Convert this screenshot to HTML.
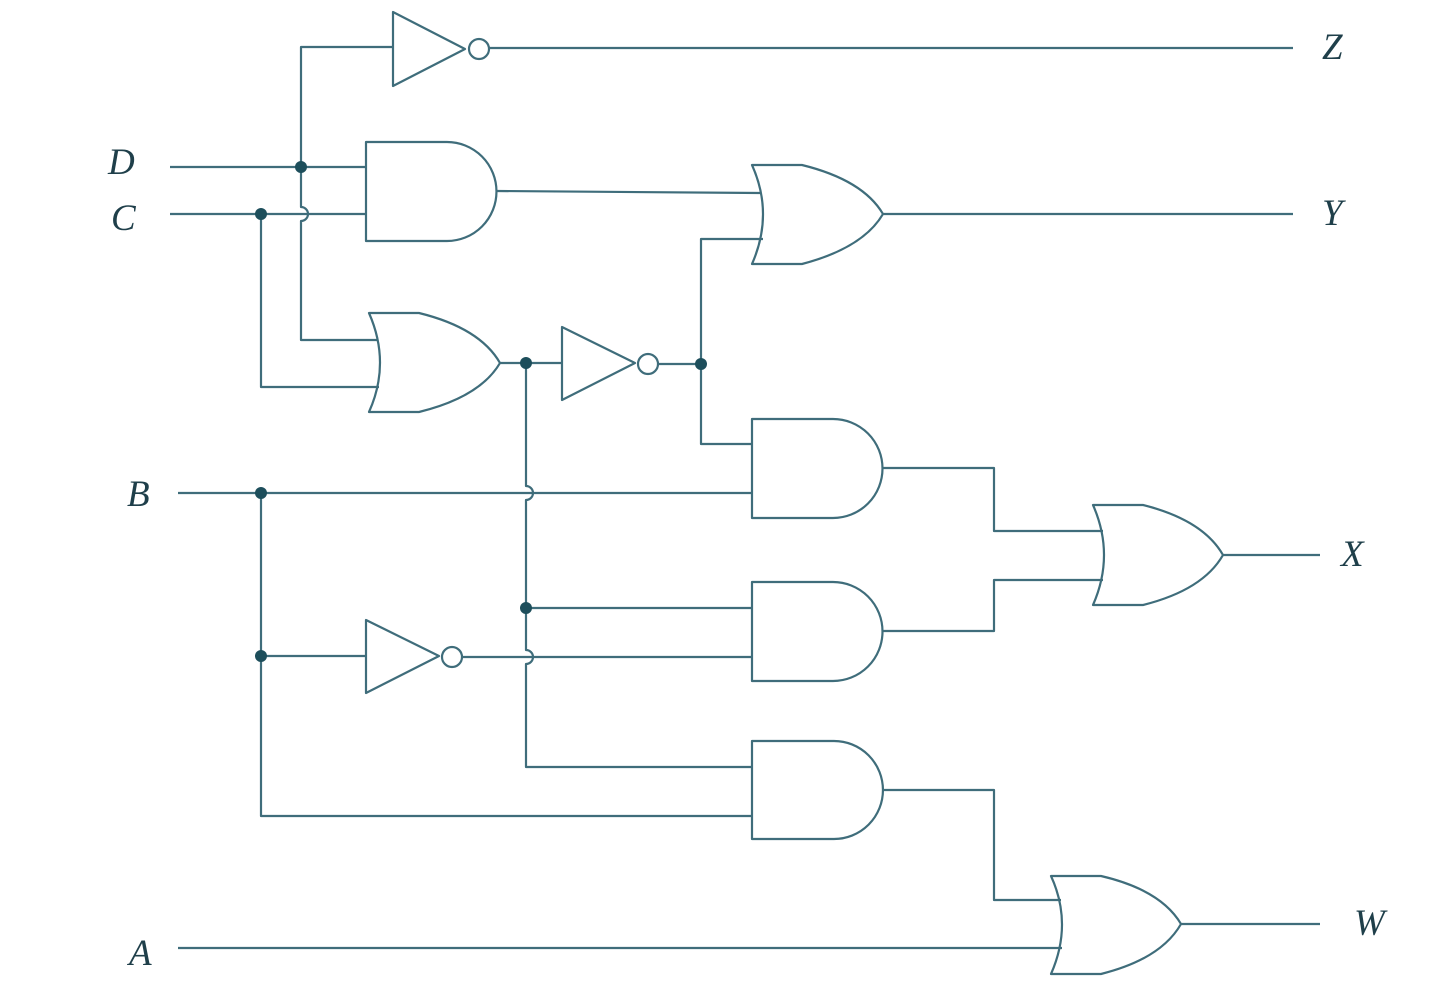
<!DOCTYPE html>
<html><head><meta charset="utf-8"><style>
html,body{margin:0;padding:0;background:#fff;}
svg{display:block;}
text{font-family:"Liberation Serif",serif;font-style:italic;font-size:37px;fill:#1f3f4a;}
</style></head><body>
<svg width="1450" height="1006" viewBox="0 0 1450 1006" xmlns="http://www.w3.org/2000/svg">
<g fill="none" stroke="#3f6d7b" stroke-width="2.2" stroke-linejoin="round">
<path d="M393 12 L393 86 L465 49 Z"/>
<circle cx="479" cy="49" r="10"/>
<path d="M489 48 H1293"/>
<path d="M393 47 H301 V207 A7 7 0 0 1 301 221 V340 H378"/>
<path d="M170 167 H366"/>
<path d="M170 214 H366"/>
<path d="M366 142 H447 A49.5 49.5 0 0 1 447 241 H366 Z"/>
<path d="M497 191 L760 193"/>
<path d="M752 165 L802 165 Q863 180 883 214 Q863 248 802 264 L752 264 Q774 214 752 165 Z"/>
<path d="M883 214 H1293"/>
<path d="M763 239 H701 V444 H752"/>
<path d="M369 313 L419 313 Q480 328 500 363 Q480 397 419 412 L369 412 Q391 363 369 313 Z"/>
<path d="M261 214 V387 H379"/>
<path d="M500 363 H562"/>
<path d="M562 327 L562 400 L635 363 Z"/>
<circle cx="648" cy="364" r="10"/>
<path d="M658 364 H701"/>
<path d="M526 363 V486 A7 7 0 0 1 526 500 V650 A7 7 0 0 1 526 664 V767 H752"/>
<path d="M526 608 H752"/>
<path d="M752 419 H833 A49.5 49.5 0 0 1 833 518 H752 Z"/>
<path d="M178 493 H752"/>
<path d="M883 468 H994 V531 H1103"/>
<path d="M1093 505 L1143 505 Q1203 520 1223 555 Q1203 590 1143 605 L1093 605 Q1115 555 1093 505 Z"/>
<path d="M1223 555 H1320"/>
<path d="M752 582 H833 A49.5 49.5 0 0 1 833 681 H752 Z"/>
<path d="M883 631 H994 V580 H1103"/>
<path d="M261 493 V816 H752"/>
<path d="M261 656 H366"/>
<path d="M366 620 L366 693 L439 656 Z"/>
<circle cx="452" cy="657" r="10"/>
<path d="M462 657 H752"/>
<path d="M752 741 H834 A49 49 0 0 1 834 839 H752 Z"/>
<path d="M883 790 H994 V900 H1061"/>
<path d="M1051 876 L1101 876 Q1161 890 1181 924 Q1161 959 1101 974 L1051 974 Q1073 924 1051 876 Z"/>
<path d="M178 948 H1062"/>
<path d="M1181 924 H1320"/>
</g>
<g fill="#1d4e5b">
<circle cx="301" cy="167" r="6"/>
<circle cx="261" cy="214" r="6"/>
<circle cx="526" cy="363" r="6"/>
<circle cx="701" cy="364" r="6"/>
<circle cx="526" cy="608" r="6"/>
<circle cx="261" cy="493" r="6"/>
<circle cx="261" cy="656" r="6"/>
</g>
<text x="108" y="174">D</text>
<text x="111" y="230">C</text>
<text x="127" y="506">B</text>
<text x="129" y="965">A</text>
<text x="1322" y="59">Z</text>
<text x="1322" y="225">Y</text>
<text x="1341" y="566">X</text>
<text x="1354" y="935">W</text>
</svg>
</body></html>
